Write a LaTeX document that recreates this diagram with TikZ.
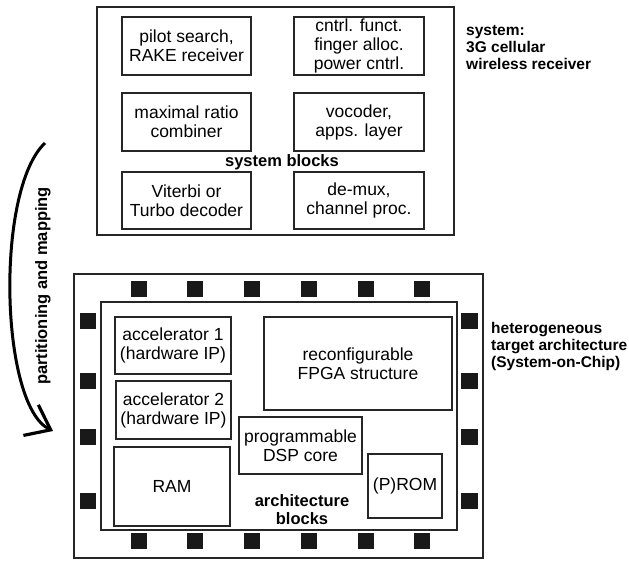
\documentclass[tikz,border=0pt]{standalone}
\usepackage{fontspec}
\setmainfont{Liberation Sans}
\usetikzlibrary{arrows.meta}
\tikzset{
  blk/.style={draw=black!85, line width=1.2pt, inner sep=0pt, outer sep=0pt, anchor=north west, align=center,
    font=\fontsize{17.5}{19}\selectfont},
  frame/.style={draw=black!85, line width=1.3pt, inner sep=0pt, outer sep=0pt, anchor=north west},
  pad/.style={fill=black!90, draw=none, minimum width=16.5pt, minimum height=16.5pt, inner sep=0pt},
  lbl/.style={font=\fontsize{16.5}{18}\selectfont\bfseries, inner sep=0pt},
  sidelbl/.style={font=\fontsize{15.5}{17}\selectfont\bfseries, inner sep=0pt, anchor=west, align=left},
  bigarrow/.style={line width=3pt, -{Straight Barb[length=22pt,width=34pt,line width=3.2pt]}}
}
\begin{document}
\begin{tikzpicture}[x=1pt,y=-1pt]
\useasboundingbox (0,0) rectangle (629,560);
% system
\node[frame, minimum width=357pt, minimum height=228pt] (sys) at (97,7) {};
\node[blk, minimum width=129pt, minimum height=58pt] (pilot) at (122,17) {pilot search,\\RAKE receiver};
\node[blk, minimum width=130pt, minimum height=58pt] (cntrl) at (294,17) {cntrl. funct.\\finger alloc.\\power cntrl.};
\node[blk, minimum width=129pt, minimum height=58pt] (mrc) at (122,93) {maximal ratio\\combiner};
\node[blk, minimum width=130pt, minimum height=58pt] (voc) at (294,93) {vocoder,\\apps. layer};
\node[blk, minimum width=129pt, minimum height=57pt] (vit) at (122,172) {Viterbi or\\Turbo decoder};
\node[blk, minimum width=130pt, minimum height=57pt] (demux) at (294,172) {de-mux,\\channel proc.};
\node[lbl] (sysblk) at (282,162) {system blocks};
\node[sidelbl] (syslbl) at (466,48) {system:\\3G cellular\\wireless receiver};
% SoC
\node[frame, minimum width=409pt, minimum height=284pt] (soc) at (74,274) {};
\node[frame, minimum width=356pt, minimum height=228pt] (core) at (101,302) {};
\foreach \i/\x in {1/139,2/195,3/252,4/309,5/366,6/422} {
  \node[pad] (pt\i) at (\x,289) {};
  \node[pad] (pb\i) at (\x,541) {};
}
\foreach \i/\y in {1/321,2/381,3/437,4/501} {
  \node[pad] (pl\i) at (88,\y) {};
  \node[pad] (pr\i) at (469.5,\y) {};
}
\node[blk, minimum width=116pt, minimum height=57pt] (acc1) at (115,317) {accelerator 1\\(hardware IP)};
\node[blk, minimum width=115pt, minimum height=58pt] (acc2) at (116,381) {accelerator 2\\(hardware IP)};
\node[blk, minimum width=116pt, minimum height=79pt] (ram) at (114,447) {RAM};
\node[blk, minimum width=188pt, minimum height=93pt] (fpga) at (264,317) {reconfigurable\\FPGA structure};
\node[blk, minimum width=123pt, minimum height=57pt] (dsp) at (239,417) {programmable\\DSP core};
\node[blk, minimum width=74pt, minimum height=64pt] (prom) at (368,454) {(P)ROM};
\node[lbl, align=center] (archblk) at (302,510) {architecture\\blocks};
\node[sidelbl] (soclbl) at (491,346) {heterogeneous\\target architecture\\(System-on-Chip)};
% arrow
\node[lbl, rotate=90] (pm) at (43,286) {partitioning and mapping};
\coordinate (arrS) at (45,143);
\coordinate (arrE) at (53,431);
\draw[bigarrow] (arrS) .. controls (-5,190) and (0,405) .. (arrE);
\end{tikzpicture}
\end{document}
